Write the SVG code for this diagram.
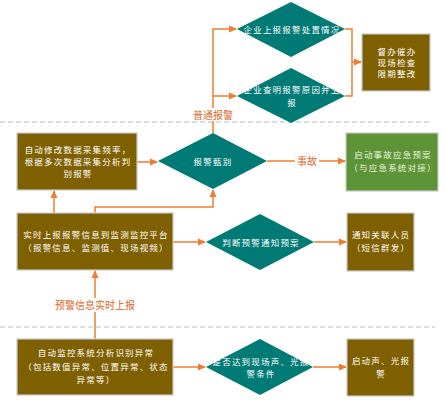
<svg xmlns="http://www.w3.org/2000/svg" width="445" height="400" viewBox="0 0 445 400">
<defs>
<marker id="arr" markerWidth="8" markerHeight="8" refX="7" refY="4" orient="auto" markerUnits="userSpaceOnUse">
<path d="M0,0.5 L8,4 L0,7.5 Z" fill="#ED7D31"/>
</marker>
</defs>
<style>
.box{fill:#7F6000;stroke:#C8C8C8;stroke-width:1.2}
.gbox{fill:#5E9438;stroke:#C8C8C8;stroke-width:1.2}
.dia{fill:#007A75}
.t{font-family:"Noto Sans CJK SC","Liberation Sans",sans-serif;font-size:8.5px;fill:#FFFFFF;text-anchor:middle;letter-spacing:1.2px}
.tg{fill:#E8F4DC}
.lbl{font-family:"Noto Sans CJK SC","Liberation Sans",sans-serif;font-size:10px;fill:#D9661F;text-anchor:middle}
.c{fill:none;stroke:#ED7D31;stroke-width:1.5}
.dash1{stroke:#A9BACD;stroke-width:1;stroke-dasharray:5,3}
.dash2{stroke:#D4D4D4;stroke-width:1.5;stroke-dasharray:5,3}
</style>
<line class="dash1" x1="0" y1="122" x2="430" y2="122"/>
<line class="dash2" x1="0" y1="327" x2="435" y2="327"/>
<g id="connectors">
<path class="c" d="M213,133 L213,29 L236,29" marker-end="url(#arr)"/>
<path class="c" d="M213,96 L236,96" marker-end="url(#arr)"/>
<path class="c" d="M345,29 L352,29 L352,96 L345,96"/>
<path class="c" d="M352,62 L361,62" marker-end="url(#arr)"/>
<path class="c" d="M137,162 L157,162" marker-end="url(#arr)"/>
<path class="c" d="M267,161 L345,161" marker-end="url(#arr)"/>
<path class="c" d="M54,213 L54,191" marker-end="url(#arr)"/>
<path class="c" d="M95,213 L95,207 L213,207 L213,190" marker-end="url(#arr)"/>
<path class="c" d="M173,242 L205,242" marker-end="url(#arr)"/>
<path class="c" d="M314,242 L346,242" marker-end="url(#arr)"/>
<path class="c" d="M95,339 L95,271" marker-end="url(#arr)"/>
<path class="c" d="M173,367 L205,367" marker-end="url(#arr)"/>
<path class="c" d="M313,367 L346,367" marker-end="url(#arr)"/>
<rect x="191" y="108" width="44" height="13" fill="#FFFFFF"/>
<text class="lbl" x="213" y="119">普通报警</text>
<rect x="295" y="154" width="24" height="14" fill="#FFFFFF" stroke="#E6E6E6" stroke-width="0.5"/>
<text class="lbl" x="307" y="165">事故</text>
<rect x="54" y="298" width="82" height="14" fill="#FFFFFF"/>
<text class="lbl" x="95" y="309">预警信息实时上报</text>
</g>
<g id="n1">
<polygon class="dia" points="291,2 345,29 291,57 237,29"/>
<text class="t" x="292" y="33">企业上报报警处置情况</text>
</g>
<g id="n2">
<polygon class="dia" points="291,68 345,96 291,123 237,96"/>
<text class="t" x="292" y="93">企业查明报警原因并上</text>
<text class="t" x="292" y="106">报</text>
</g>
<g id="n3">
<rect class="box" x="362" y="34" width="68" height="57"/>
<text class="t" x="397" y="55">督办催办</text>
<text class="t" x="397" y="66">现场检查</text>
<text class="t" x="397" y="77">限期整改</text>
</g>
<g id="n4">
<rect class="box" x="17" y="133" width="120" height="57"/>
<text class="t" x="78" y="153">自动修改数据采集频率，</text>
<text class="t" x="78" y="165">根据多次数据采集分析判</text>
<text class="t" x="78" y="177">别报警</text>
</g>
<g id="n5">
<polygon class="dia" points="213,133 267,161 213,189 158,161"/>
<text class="t" x="213" y="165">报警甄别</text>
</g>
<g id="n6">
<rect class="gbox" x="346" y="133" width="92" height="58"/>
<text class="t tg" x="393" y="158">启动事故应急预案</text>
<text class="t tg" x="393" y="171">（与应急系统对接）</text>
</g>
<g id="n7">
<rect class="box" x="17" y="213" width="156" height="57"/>
<text class="t" x="96" y="238">实时上报报警信息到监测监控平台</text>
<text class="t" x="96" y="251">（报警信息、监测值、现场视频）</text>
</g>
<g id="n8">
<polygon class="dia" points="260,214 314,242 260,270 206,242"/>
<text class="t" x="261" y="246">判断预警通知预案</text>
</g>
<g id="n9">
<rect class="box" x="347" y="213" width="67" height="58"/>
<text class="t" x="381" y="238">通知关联人员</text>
<text class="t" x="381" y="251">（短信群发）</text>
</g>
<g id="n10">
<rect class="box" x="17" y="339" width="156" height="56"/>
<text class="t" x="96" y="356">自动监控系统分析识别异常</text>
<text class="t" x="96" y="370">（包括数值异常、位置异常、状态</text>
<text class="t" x="96" y="383">异常等）</text>
</g>
<g id="n11">
<polygon class="dia" points="260,339 313,367 260,395 206,367"/>
<text class="t" x="261" y="365">是否达到现场声、光报</text>
<text class="t" x="261" y="377">警条件</text>
</g>
<g id="n12">
<rect class="box" x="347" y="339" width="67" height="57"/>
<text class="t" x="381" y="364">启动声、光报</text>
<text class="t" x="381" y="377">警</text>
</g>
</svg>
